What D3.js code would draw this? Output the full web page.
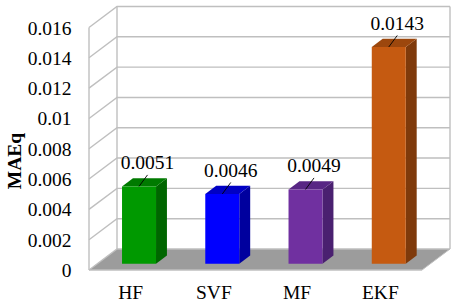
<!DOCTYPE html>
<html>
<head>
<meta charset="utf-8">
<script src="https://cdn.jsdelivr.net/npm/d3@7"></script>
<style>
  html, body { margin: 0; background: #fff; }
  svg { display: block; }
  text { font-family: "Liberation Serif", serif; font-size: 19.5px; fill: #000; }
</style>
</head>
<body>
<div class="chart"></div>
<script>
var categories = ["HF", "SVF", "MF", "EKF"];
var values = [0.0051, 0.0046, 0.0049, 0.0143];
var valueLabels = ["0.0051", "0.0046", "0.0049", "0.0143"];
var yTicks = [0, 0.002, 0.004, 0.006, 0.008, 0.01, 0.012, 0.014, 0.016];
var yTickLabels = ["0", "0.002", "0.004", "0.006", "0.008", "0.01", "0.012", "0.014", "0.016"];
var frontColors = ["#009900", "#0000ff", "#7030a0", "#c55a11"];
var sideColors = ["#006600", "#00009e", "#4a2070", "#7f3a0b"];
var topColors = ["#007a00", "#0000c4", "#582684", "#9c470d"];

var svgWidth = 457;
var svgHeight = 306;

// front edge of the floor; the back wall sits depth px behind it
var plotLeft = 89, plotRight = 422, plotBottom = 270, plotTop = 27.5;
var depth = { x: 28, y: -21 };
var barStart = 0.3, barDepth = 0.39;
var gridColor = "#bfbfbf";

var svg = d3.select(".chart").append("svg")
  .attr("width", svgWidth)
  .attr("height", svgHeight);

var xScale = d3.scaleBand().domain(categories).range([plotLeft, plotRight]);
var yScale = d3.scaleLinear().domain([0, 0.016]).range([plotBottom, plotTop]);
var barWidth = 34;

function poly(points, fill) {
  return svg.append("polygon")
    .attr("points", points.map(p => p.join(",")).join(" "))
    .attr("fill", fill);
}

// floor
poly([[plotLeft, plotBottom], [plotLeft + depth.x, plotBottom + depth.y],
  [plotRight + depth.x, plotBottom + depth.y], [plotRight, plotBottom]], "#9c9c9c");

// walls and gridlines
var wallLines = svg.append("g")
  .attr("fill", "none")
  .attr("stroke", gridColor)
  .attr("stroke-width", 1.4);

wallLines.selectAll(".grid")
  .data(yTicks)
  .enter()
  .append("polyline")
  .attr("points", d => [
    [plotLeft, yScale(d)],
    [plotLeft + depth.x, yScale(d) + depth.y],
    [plotRight + depth.x, yScale(d) + depth.y]
  ].map(p => p.join(",")).join(" "));

[plotLeft, plotLeft + depth.x, plotRight + depth.x].forEach(function(x, i) {
  var dy = i === 0 ? 0 : depth.y;
  wallLines.append("line")
    .attr("x1", x).attr("x2", x)
    .attr("y1", yScale(0) + dy)
    .attr("y2", yScale(0.016) + dy);
});

// front lip of the floor
svg.append("line")
  .attr("x1", plotLeft).attr("x2", plotRight)
  .attr("y1", plotBottom).attr("y2", plotBottom)
  .attr("stroke", gridColor)
  .attr("stroke-width", 1.4);
svg.append("line")
  .attr("x1", plotRight).attr("x2", plotRight + depth.x)
  .attr("y1", plotBottom).attr("y2", plotBottom + depth.y)
  .attr("stroke", gridColor)
  .attr("stroke-width", 1);

// bars
categories.forEach(function(c, i) {
  var x0 = xScale(c) + xScale.bandwidth() / 2 - barWidth / 2 + depth.x * barStart;
  var x1 = x0 + barWidth;
  var base = yScale(0) + depth.y * barStart;
  var head = yScale(values[i]) + depth.y * barStart;
  var dx = depth.x * barDepth, dy = depth.y * barDepth;

  poly([[x1, base], [x1 + dx, base + dy], [x1 + dx, head + dy], [x1, head]], sideColors[i]);
  poly([[x0, head], [x0 + dx, head + dy], [x1 + dx, head + dy], [x1, head]], topColors[i]);
  poly([[x0, base], [x1, base], [x1, head], [x0, head]], frontColors[i]);

  // leader line and value label
  var mid = (x0 + x1) / 2;
  svg.append("line")
    .attr("x1", mid).attr("y1", head)
    .attr("x2", mid + 8.5).attr("y2", head - 11.5)
    .attr("stroke", "#000")
    .attr("stroke-width", 0.9);
  svg.append("text")
    .attr("x", mid + 8.5)
    .attr("y", head - 17)
    .attr("text-anchor", "middle")
    .text(valueLabels[i]);

  svg.append("text")
    .attr("x", xScale(c) + xScale.bandwidth() / 2)
    .attr("y", 299)
    .attr("text-anchor", "middle")
    .text(c);
});

// y tick labels
svg.selectAll(".ytick")
  .data(yTicks)
  .enter()
  .append("text")
  .attr("class", "ytick")
  .attr("x", 71.5)
  .attr("y", d => yScale(d) + 7)
  .attr("text-anchor", "end")
  .text((d, i) => yTickLabels[i]);

svg.append("text")
  .attr("transform", "translate(21, 161) rotate(-90)")
  .attr("text-anchor", "middle")
  .attr("font-weight", "bold")
  .text("MAEq");
</script>
</body>
</html>
